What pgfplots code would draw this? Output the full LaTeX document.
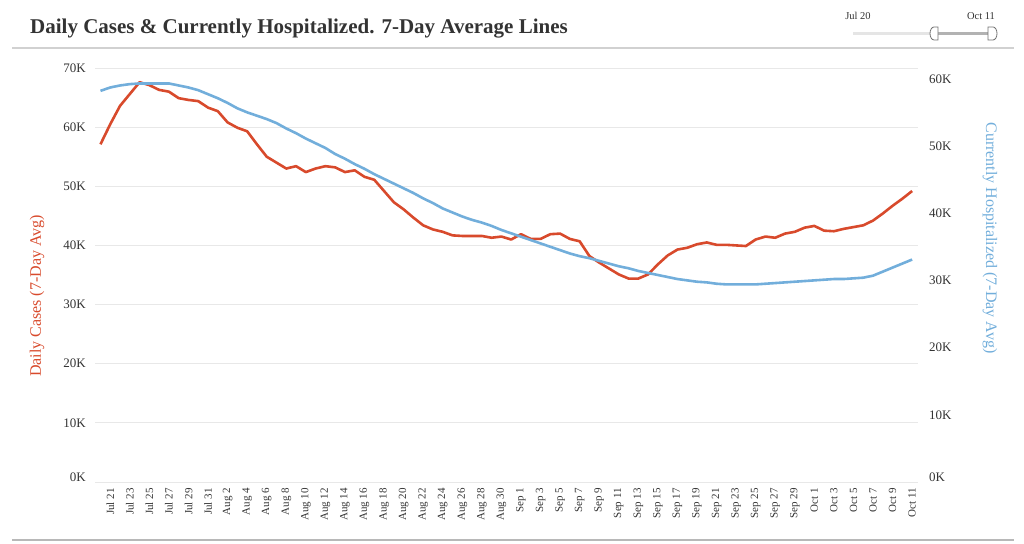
\documentclass[border=0pt]{standalone}
\usepackage{fontspec}
\setmainfont{Liberation Serif}
\usepackage{pgfplots}
\pgfplotsset{compat=1.18}

\definecolor{casered}{HTML}{D84A2C}
\definecolor{hospblue}{HTML}{72AEDB}
\definecolor{gridgray}{HTML}{E8E8E8}
\definecolor{txtgray}{HTML}{333333}

\begin{document}
\begin{tikzpicture}[x=1pt,y=1pt]
\path[use as bounding box] (0,0) rectangle (1024,543);

% title and frame lines
\node[anchor=west, font=\fontsize{21}{24}\selectfont\bfseries, text=txtgray, inner sep=0pt] at (30,514) {Daily Cases \& Currently Hospitalized. 7-Day Average Lines};
\draw[line width=2.5pt, color=black!18] (12,495) -- (1014,495);
\draw[line width=1.5pt, color=black!28] (12,3) -- (1014,3);

% date slider
\node[font=\fontsize{10.5}{12}\selectfont, text=txtgray] at (858,527) {Jul 20};
\node[font=\fontsize{10.5}{12}\selectfont, text=txtgray] at (981,527) {Oct 11};
\draw[line width=3pt, color=black!10] (853,509.5) -- (934,509.5);
\draw[line width=3pt, color=black!30] (934,509.5) -- (990,509.5);
\draw[fill=white, draw=black!55, line width=0.8pt] (938,503) -- (934,503) arc[start angle=-90, end angle=-270, x radius=4, y radius=6.5] -- (938,516) -- cycle;
\draw[fill=white, draw=black!55, line width=0.8pt] (988,503) -- (993,503) arc[start angle=-90, end angle=90, x radius=4, y radius=6.5] -- (988,516) -- cycle;

% axis titles
\node[rotate=90, font=\fontsize{16}{18}\selectfont, text=casered] at (37,247) {Daily Cases (7-Day Avg)};
\node[rotate=-90, font=\fontsize{16}{18}\selectfont, text=hospblue] at (990,305) {Currently Hospitalized (7-Day Avg)};

% daily cases, left axis
\begin{axis}[
    at={(95pt,61pt)}, anchor=south west,
    scale only axis, width=823pt, height=414pt,
    xmin=-0.56, xmax=83.6, ymin=0, ymax=70,
    axis line style={draw=none},
    major tick length=0pt,
    ymajorgrids, grid style={gridgray, line width=1pt},
    ytick={0,10,...,70},
    yticklabels={\raisebox{9pt}{0K},10K,20K,30K,40K,50K,60K,70K},
    yticklabel style={font=\fontsize{13}{14}\selectfont, text=txtgray, inner sep=0pt},
    yticklabel shift=9pt,
    xtick={1,3,...,83},
    xticklabels={Jul 21,Jul 23,Jul 25,Jul 27,Jul 29,Jul 31,Aug 2,Aug 4,Aug 6,Aug 8,Aug 10,Aug 12,Aug 14,Aug 16,Aug 18,Aug 20,Aug 22,Aug 24,Aug 26,Aug 28,Aug 30,Sep 1,Sep 3,Sep 5,Sep 7,Sep 9,Sep 11,Sep 13,Sep 15,Sep 17,Sep 19,Sep 21,Sep 23,Sep 25,Sep 27,Sep 29,Oct 1,Oct 3,Oct 5,Oct 7,Oct 9,Oct 11},
    xticklabel style={rotate=90, anchor=east, font=\fontsize{11}{12}\selectfont, text=txtgray, inner sep=0pt},
    xticklabel shift=6pt,
]
\addplot[casered, line width=2.6pt, line join=round] coordinates {
(0,57.1) (1,60.5) (2,63.6) (3,65.6) (4,67.6) (5,67.1) (6,66.3) (7,66.0) (8,64.9) (9,64.6)
(10,64.4) (11,63.3) (12,62.7) (13,60.8) (14,59.9) (15,59.3) (16,57.1) (17,55.0) (18,54.0) (19,53.0)
(20,53.4) (21,52.4) (22,53.0) (23,53.4) (24,53.2) (25,52.4) (26,52.7) (27,51.6) (28,51.1) (29,49.2)
(30,47.3) (31,46.1) (32,44.7) (33,43.4) (34,42.7) (35,42.3) (36,41.7) (37,41.6) (38,41.6) (39,41.6)
(40,41.3) (41,41.5) (42,41.0) (43,41.9) (44,41.1) (45,41.1) (46,41.9) (47,42.0) (48,41.1) (49,40.7)
(50,38.2) (51,37.1) (52,36.1) (53,35.1) (54,34.4) (55,34.4) (56,35.1) (57,36.8) (58,38.3) (59,39.3)
(60,39.6) (61,40.2) (62,40.5) (63,40.1) (64,40.1) (65,40.0) (66,39.9) (67,41.0) (68,41.5) (69,41.3)
(70,42.0) (71,42.3) (72,43.0) (73,43.3) (74,42.5) (75,42.4) (76,42.8) (77,43.1) (78,43.4) (79,44.2)
(80,45.4) (81,46.7) (82,47.9) (83,49.2)
};
\end{axis}

% hospitalized, right axis
\begin{axis}[
    at={(95pt,61pt)}, anchor=south west,
    scale only axis, width=823pt, height=414pt,
    xmin=-0.56, xmax=83.6, ymin=0, ymax=61.6,
    axis x line=none,
    axis y line*=right,
    axis line style={draw=none},
    major tick length=0pt,
    ytick={0,10,...,60},
    yticklabels={\raisebox{9pt}{0K},10K,20K,30K,40K,50K,60K},
    yticklabel style={font=\fontsize{13}{14}\selectfont, text=txtgray, inner sep=0pt},
    yticklabel shift=11pt,
]
\addplot[hospblue, line width=2.6pt, line join=round] coordinates {
(0,58.2) (1,58.7) (2,59.0) (3,59.2) (4,59.3) (5,59.3) (6,59.3) (7,59.3) (8,59.0) (9,58.7)
(10,58.3) (11,57.7) (12,57.1) (13,56.4) (14,55.6) (15,55.0) (16,54.5) (17,54.0) (18,53.4) (19,52.6)
(20,51.9) (21,51.1) (22,50.4) (23,49.7) (24,48.8) (25,48.1) (26,47.3) (27,46.6) (28,45.8) (29,45.1)
(30,44.4) (31,43.7) (32,43.0) (33,42.2) (34,41.5) (35,40.7) (36,40.1) (37,39.5) (38,39.0) (39,38.6)
(40,38.1) (41,37.5) (42,37.0) (43,36.5) (44,36.0) (45,35.5) (46,35.0) (47,34.5) (48,34.0) (49,33.6)
(50,33.3) (51,32.9) (52,32.5) (53,32.1) (54,31.8) (55,31.4) (56,31.1) (57,30.8) (58,30.5) (59,30.2)
(60,30.0) (61,29.8) (62,29.7) (63,29.5) (64,29.4) (65,29.4) (66,29.4) (67,29.4) (68,29.5) (69,29.6)
(70,29.7) (71,29.8) (72,29.9) (73,30.0) (74,30.1) (75,30.2) (76,30.2) (77,30.3) (78,30.4) (79,30.7)
(80,31.3) (81,31.9) (82,32.5) (83,33.1)
};
\end{axis}
\end{tikzpicture}
\end{document}
